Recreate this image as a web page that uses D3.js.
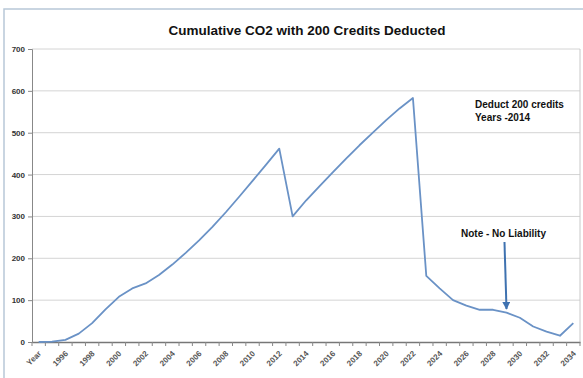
<!DOCTYPE html>
<html><head><meta charset="utf-8">
<script src="https://cdn.jsdelivr.net/npm/d3@7"></script>
<style>body{margin:0;background:#fff}svg{display:block}</style>
</head><body>
<script>
const categories = ["Year","1995","1996","1997","1998","1999","2000","2001","2002","2003","2004","2005","2006","2007","2008","2009","2010","2011","2012","2013","2014","2015","2016","2017","2018","2019","2020","2021","2022","2023","2024","2025","2026","2027","2028","2029","2030","2031","2032","2033","2034"];
const values = [0,1,5,20,45,78,108,128,140,160,185,213,243,275,310,347,385,423,462,300,338,372,405,438,470,500,530,558,583,158,128,100,87,77,77,70,58,37,25,15,45];
const yTicks = [0,100,200,300,400,500,600,700];
const xLabelEvery = 2;
const title = "Cumulative CO2 with 200 Credits Deducted";
const note1 = ["Deduct 200 credits","Years -2014"];
const note2 = "Note - No Liability";
const arrowCategory = "2029";

const W=583,H=378;
const FONT="Arial, Liberation Sans, sans-serif";
const svg=d3.select("body").append("svg").attr("width",W).attr("height",H);
svg.append("rect").attr("x",4).attr("y",9).attr("width",W).attr("height",H).attr("fill","none").attr("stroke","#b8c8d8").attr("stroke-width",1.5);

const x=d3.scaleBand().domain(categories).range([32,580]);
const y=d3.scaleLinear().domain([0,700]).range([342,49]);

svg.append("g").selectAll("line").data(yTicks.filter(d=>d>0)).join("line")
 .attr("x1",32).attr("x2",580).attr("y1",d=>y(d)).attr("y2",d=>y(d))
 .attr("stroke","#d4d4d4").attr("stroke-width",1);
svg.append("line").attr("x1",580).attr("x2",580).attr("y1",49).attr("y2",342).attr("stroke","#c8c8c8");

const ya=svg.append("g").attr("transform","translate(32,0)").call(d3.axisLeft(y).tickValues(yTicks).tickSize(4).tickPadding(3));
ya.select(".domain").attr("stroke","#888");
ya.selectAll(".tick line").attr("stroke","#888");
ya.selectAll("text").attr("font-family",FONT).attr("font-size","8px").attr("font-weight","bold").attr("fill","#333");

const xa=svg.append("g").attr("transform","translate(0,342)").call(d3.axisBottom(x).tickSize(0).tickFormat((d,i)=>i%xLabelEvery===0?d:""));
xa.select(".domain").attr("stroke","#777").attr("stroke-width",1.3);
xa.selectAll("text").attr("font-family",FONT).attr("font-size","8px").attr("font-weight","bold").attr("fill","#555")
 .attr("text-anchor","end").attr("dy","0").attr("transform","translate(1,10) rotate(-45)");
svg.append("g").selectAll("line").data(categories.concat(["_end"])).join("line")
 .attr("x1",(d,i)=>32+i*x.step()).attr("x2",(d,i)=>32+i*x.step())
 .attr("y1",342).attr("y2",346).attr("stroke","#888");

const line=d3.line().x((d,i)=>x(categories[i])+x.bandwidth()/2).y(d=>y(d));
svg.append("path").datum(values).attr("d",line).attr("fill","none").attr("stroke","#6a92c6").attr("stroke-width",1.8).attr("stroke-linejoin","round");

svg.append("text").attr("x",307).attr("y",35).attr("text-anchor","middle")
 .attr("font-family",FONT).attr("font-weight","bold").attr("font-size","13.5px").attr("fill","#111").text(title);

const nt=svg.append("text").attr("font-family",FONT).attr("font-weight","bold").attr("font-size","10px").attr("fill","#111");
note1.forEach((t,i)=>nt.append("tspan").attr("x",475).attr("y",108+i*13).text(t));
svg.append("text").attr("x",461).attr("y",237).attr("font-family",FONT).attr("font-weight","bold").attr("font-size","10px").attr("fill","#111").text(note2);

const ax=x(arrowCategory)+x.bandwidth()/2;
const defs=svg.append("defs");
defs.append("marker").attr("id","ah").attr("viewBox","0 0 10 10").attr("refX",9).attr("refY",5).attr("markerWidth",4).attr("markerHeight",4).attr("orient","auto")
 .append("path").attr("d","M0,0L10,5L0,10z").attr("fill","#3f72b0");
svg.append("line").attr("x1",ax-2).attr("y1",242).attr("x2",ax).attr("y2",309).attr("stroke","#3f72b0").attr("stroke-width",2).attr("marker-end","url(#ah)");
</script>
</body></html>
